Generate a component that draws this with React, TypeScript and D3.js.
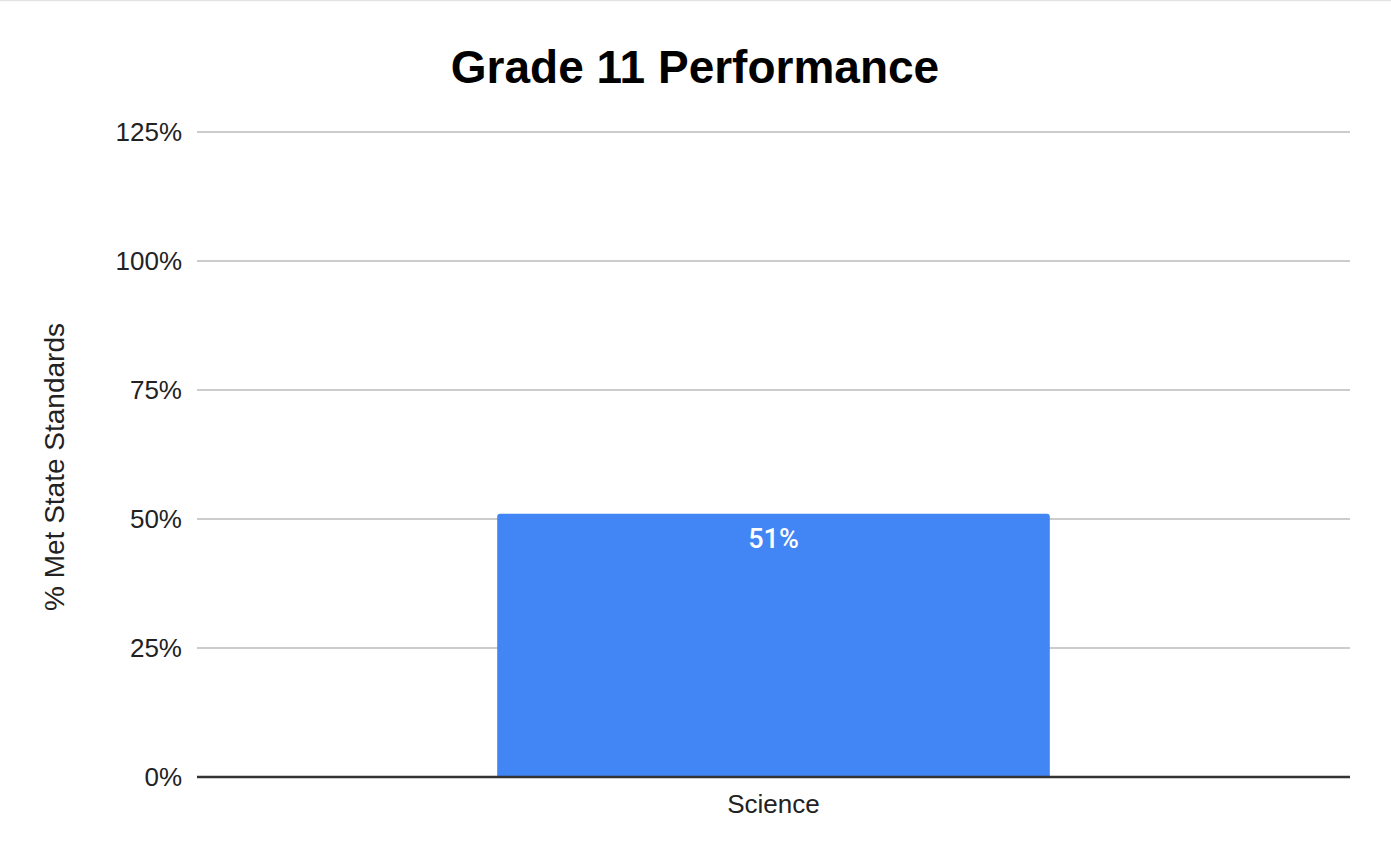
import React from "react";
import * as d3 from "d3";

const categories: string[] = ["Science"];
const metPercent: number[] = [51];
const yTicks: number[] = [0, 25, 50, 75, 100, 125];

const W = 1391;
const H = 862;
const margin = { top: 132, right: 41, bottom: 85, left: 197 };

export default function App() {
  const x = d3
    .scaleBand<string>()
    .domain(categories)
    .range([margin.left, W - margin.right])
    .padding(0.352);
  const y = d3
    .scaleLinear()
    .domain([0, 125])
    .range([H - margin.bottom, margin.top]);

  const font = "'Liberation Sans', Arial, sans-serif";
  const r = 3;

  return (
    <svg
      width={W}
      height={H}
      style={{ position: "fixed", left: 0, top: 0, background: "#fff" }}
    >
      <line x1={0} x2={W} y1={0.5} y2={0.5} stroke="#e3e3e3" strokeWidth={1.5} />
      <text
        x={695}
        y={83}
        textAnchor="middle"
        fontFamily={font}
        fontWeight="bold"
        fontSize={46}
        fill="#000"
      >
        Grade 11 Performance
      </text>

      {/* gridlines and tick labels */}
      {yTicks.map((t) => (
        <g key={t}>
          {t !== 0 && (
            <line
              x1={margin.left}
              x2={W - margin.right}
              y1={y(t)}
              y2={y(t)}
              stroke="#cccccc"
              strokeWidth={2}
            />
          )}
          <text
            x={182}
            y={y(t)}
            dy="0.35em"
            textAnchor="end"
            fontFamily={font}
            fontSize={26}
            fill="#222"
          >
            {`${t}%`}
          </text>
        </g>
      ))}

      {/* bars */}
      {categories.map((c, i) => {
        const x0 = x(c) as number;
        const bw = x.bandwidth();
        const yTop = y(metPercent[i]);
        const yBase = y(0);
        const path = `M${x0},${yBase} L${x0},${yTop + r} Q${x0},${yTop} ${x0 + r},${yTop} L${x0 + bw - r},${yTop} Q${x0 + bw},${yTop} ${x0 + bw},${yTop + r} L${x0 + bw},${yBase} Z`;
        return (
          <g key={c}>
            <path d={path} fill="#4285f4" />
            <text
              x={x0 + bw / 2}
              y={yTop + 34}
              textAnchor="middle"
              fontFamily="Roboto, sans-serif"
              fontWeight={500}
              fontSize={27}
              fill="#ffffff"
            >
              {`${metPercent[i]}%`}
            </text>
            <text
              x={x0 + bw / 2}
              y={813}
              textAnchor="middle"
              fontFamily={font}
              fontSize={26}
              fill="#222"
            >
              {c}
            </text>
          </g>
        );
      })}

      {/* baseline */}
      <line
        x1={margin.left}
        x2={W - margin.right}
        y1={y(0)}
        y2={y(0)}
        stroke="#333333"
        strokeWidth={2.5}
      />

      <text
        transform={`translate(${64},${467}) rotate(-90)`}
        textAnchor="middle"
        fontFamily={font}
        fontSize={28}
        fill="#222"
      >
        % Met State Standards
      </text>
    </svg>
  );
}
